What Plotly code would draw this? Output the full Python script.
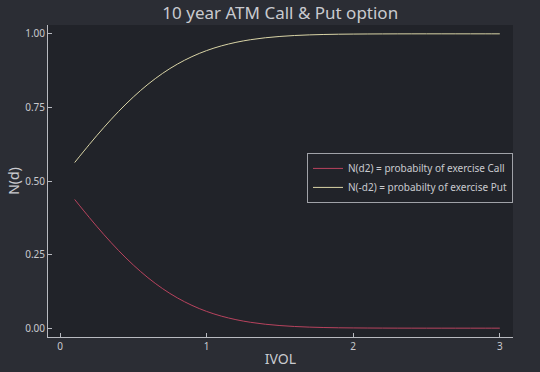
import plotly.graph_objects as go

ivol = [0.1, 0.2, 0.3, 0.4, 0.5, 0.6, 0.7, 0.8, 0.9, 1.0,
        1.1, 1.2, 1.3, 1.4, 1.5, 1.6, 1.7, 1.8, 1.9, 2.0,
        2.1, 2.2, 2.3, 2.4, 2.5, 2.6, 2.7, 2.8, 2.9, 3.0]
call_prob = [0.4372, 0.3759, 0.3176, 0.2635, 0.2146, 0.1714, 0.1342, 0.1030, 0.0774, 0.0569,
             0.0410, 0.0289, 0.0199, 0.0134, 0.0089, 0.0057, 0.0036, 0.0022, 0.0013, 0.0008,
             0.0005, 0.0003, 0.00014, 0.00007, 0.00004, 0.00002, 0.00001, 0.00001, 0.0, 0.0]
put_prob = [0.5628, 0.6241, 0.6824, 0.7365, 0.7854, 0.8286, 0.8658, 0.8970, 0.9226, 0.9431,
            0.9590, 0.9711, 0.9801, 0.9866, 0.9911, 0.9943, 0.9964, 0.9978, 0.9987, 0.9992,
            0.9995, 0.9997, 0.99986, 0.99993, 0.99996, 0.99998, 0.99999, 0.99999, 1.0, 1.0]
x_ticks = [0, 1, 2, 3]
y_ticks = [0.0, 0.25, 0.5, 0.75, 1.0]
y_tick_labels = ["0.00", "0.25", "0.50", "0.75", "1.00"]

FONT = "Noto Sans"
TXT = "#c9cacf"

fig = go.Figure()
fig.add_trace(go.Scatter(x=ivol, y=call_prob, mode="lines", line=dict(color="#b8435e", width=1, shape="spline"),
                         name="N(d2) = probabilty of exercise Call"))
fig.add_trace(go.Scatter(x=ivol, y=put_prob, mode="lines", line=dict(color="#d9d4a6", width=1, shape="spline"),
                         name="N(-d2) = probabilty of exercise Put"))

fig.update_layout(
    width=540, height=372,
    paper_bgcolor="#2b2d34", plot_bgcolor="#212329",
    margin=dict(l=48, r=27, t=25, b=35, autoexpand=False),
    title=dict(text="10 year ATM Call & Put option", x=0.519, xanchor="center", y=0.965, yanchor="middle",
               font=dict(family=FONT, size=17, color=TXT)),
    font=dict(family=FONT, size=10, color=TXT),
    showlegend=True,
    legend=dict(x=1.0, xanchor="right", y=0.59, yanchor="top", bgcolor="#212329",
                bordercolor="#a0a2a8", borderwidth=1, font=dict(family=FONT, size=10, color=TXT),
                tracegroupgap=0, itemwidth=30),
    xaxis=dict(range=[-0.082, 3.09], tickvals=x_ticks, showgrid=False, zeroline=False, automargin=False,
               showline=True, linecolor="#b8bac0", linewidth=1, ticks="inside", ticklen=4,
               tickcolor="#b8bac0", tickfont=dict(size=10, color=TXT),
               title=dict(text="IVOL", font=dict(size=14, color=TXT), standoff=2)),
    yaxis=dict(range=[-0.03, 1.03], tickvals=y_ticks, ticktext=y_tick_labels, showgrid=False, zeroline=False,
               automargin=False,
               showline=True, linecolor="#b8bac0", linewidth=1, ticks="inside", ticklen=4,
               tickcolor="#b8bac0", tickfont=dict(size=10, color=TXT),
               title=dict(text="N(d)", font=dict(size=14, color=TXT), standoff=2)),
)

fig.write_html("out.html", config={"displayModeBar": False},
               post_script="document.body.style.margin='0';document.body.style.overflow='hidden';")
